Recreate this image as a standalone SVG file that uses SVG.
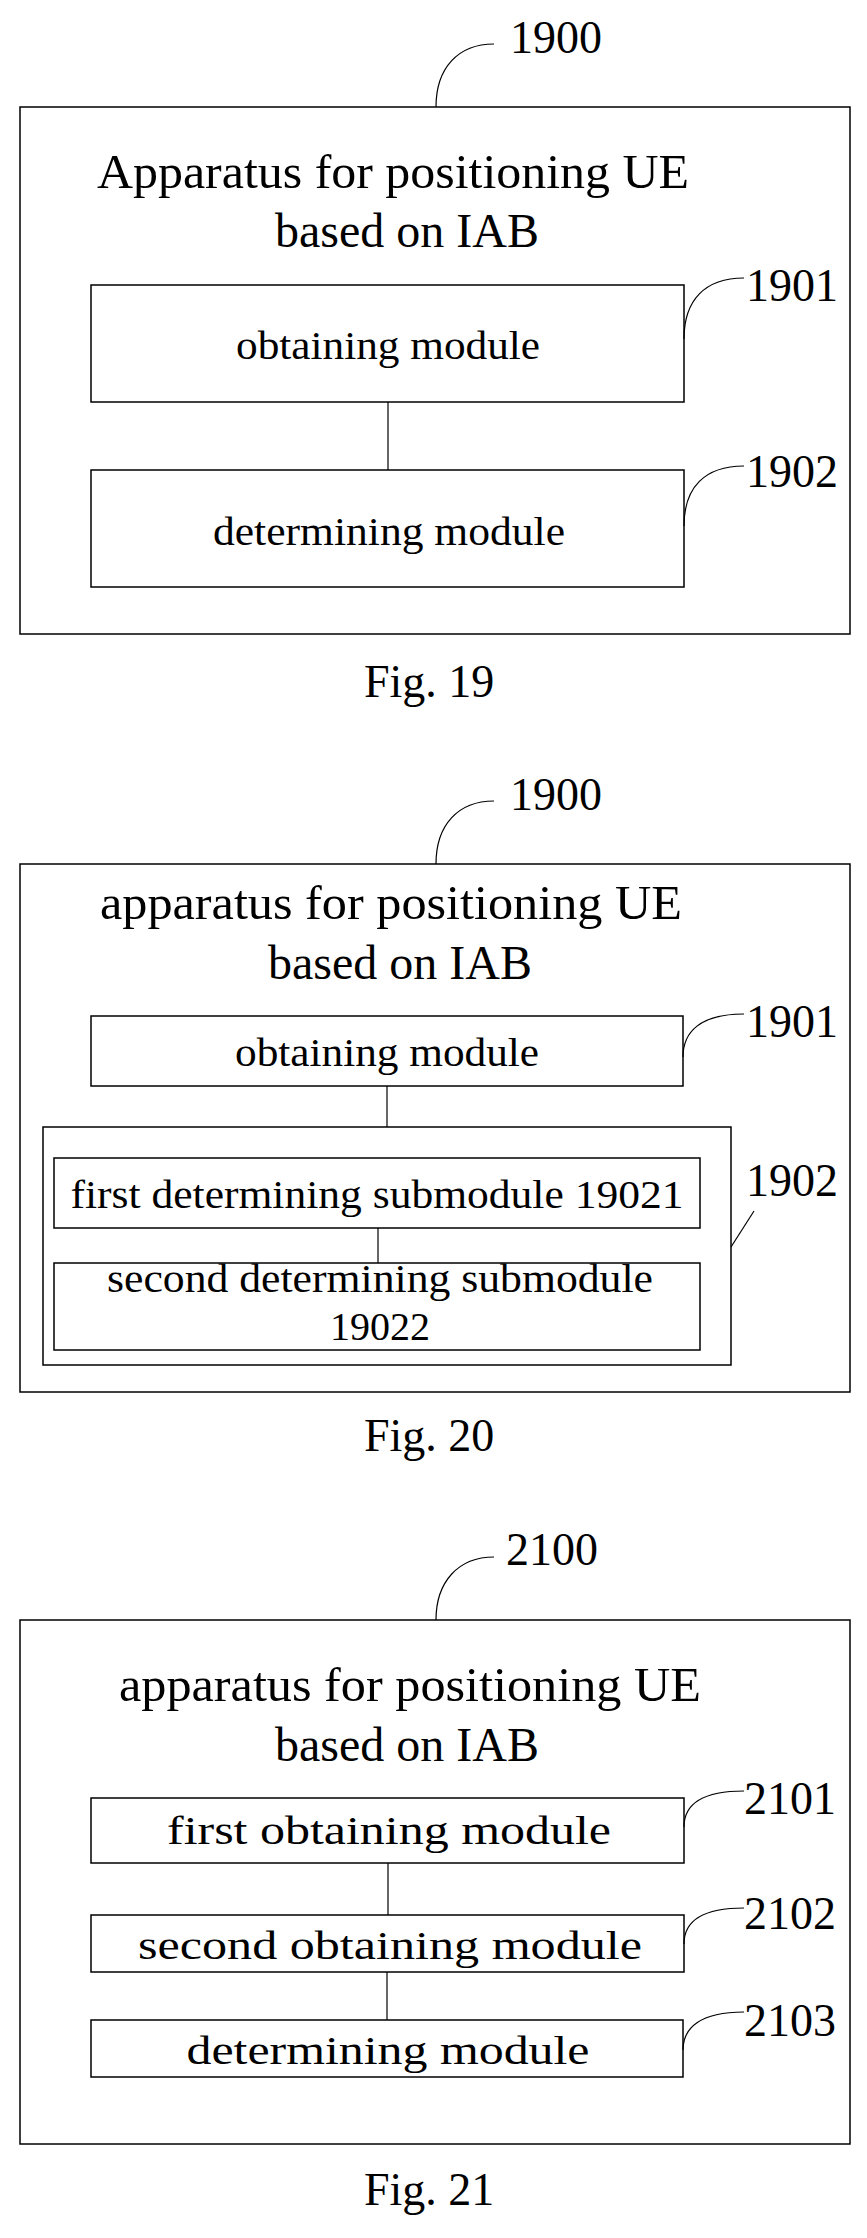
<svg xmlns="http://www.w3.org/2000/svg" width="867" height="2238" viewBox="0 0 867 2238">
<style>
rect{fill:#fff;stroke:#000;stroke-width:1.5}
path,line{fill:none;stroke:#000;stroke-width:1.2}
text{font-family:"Liberation Serif","Times New Roman",serif;fill:#000}
.t{font-size:48px;text-anchor:middle}
.m{font-size:40px;text-anchor:middle}
.n{font-size:46px}
</style>
<rect x="0" y="0" width="867" height="2238" style="fill:#fff;stroke:none"/>
<!-- Fig 19 -->
<g id="fig19">
<rect id="n1900a" x="20" y="107" width="830" height="527"/>
<text class="t" x="393" y="188" textLength="592" lengthAdjust="spacingAndGlyphs">Apparatus for positioning UE</text>
<text class="t" x="407" y="247">based on IAB</text>
<text class="n" x="510" y="53">1900</text>
<text class="n" x="364" y="697">Fig. 19</text>
</g>
<g id="n1901a"><rect x="91" y="285" width="593" height="117"/><text class="m" x="388" y="359" textLength="304" lengthAdjust="spacingAndGlyphs">obtaining module</text><text class="n" x="746" y="301">1901</text></g>
<g id="n1902a"><rect x="91" y="470" width="593" height="117"/><text class="m" x="389" y="545" textLength="352" lengthAdjust="spacingAndGlyphs">determining module</text><text class="n" x="746" y="487">1902</text></g>
<!-- Fig 20 -->
<g id="fig20">
<rect id="n1900b" x="20" y="864" width="830" height="528"/>
<text class="t" x="391" y="919" textLength="582" lengthAdjust="spacingAndGlyphs">apparatus for positioning UE</text>
<text class="t" x="400" y="979">based on IAB</text>
<text class="n" x="510" y="810">1900</text>
<text class="n" x="364" y="1451">Fig. 20</text>
</g>
<g id="n1901b"><rect x="91" y="1016" width="592" height="70"/><text class="m" x="387" y="1066" textLength="304" lengthAdjust="spacingAndGlyphs">obtaining module</text><text class="n" x="746" y="1037">1901</text></g>
<g id="n1902b"><rect x="43" y="1127" width="688" height="238"/><text class="n" x="746" y="1196">1902</text></g>
<g id="n19021"><rect x="54" y="1158" width="646" height="70"/><text class="m" x="377" y="1208" textLength="613" lengthAdjust="spacingAndGlyphs">first determining submodule 19021</text></g>
<g id="n19022"><rect x="54" y="1263" width="646" height="87"/><text class="m" x="380" y="1292" textLength="546" lengthAdjust="spacingAndGlyphs">second determining submodule</text><text class="m" x="380" y="1340">19022</text></g>
<!-- Fig 21 -->
<g id="fig21">
<rect id="n2100" x="20" y="1620" width="830" height="524"/>
<text class="t" x="410" y="1701" textLength="582" lengthAdjust="spacingAndGlyphs">apparatus for positioning UE</text>
<text class="t" x="407" y="1761">based on IAB</text>
<text class="n" x="506" y="1565">2100</text>
<text class="n" x="364" y="2205">Fig. 21</text>
</g>
<g id="n2101"><rect x="91" y="1798" width="593" height="65"/><text class="m" x="389" y="1844" textLength="444" lengthAdjust="spacingAndGlyphs">first obtaining module</text><text class="n" x="744" y="1814">2101</text></g>
<g id="n2102"><rect x="91" y="1915" width="593" height="57"/><text class="m" x="390" y="1959" textLength="504" lengthAdjust="spacingAndGlyphs">second obtaining module</text><text class="n" x="744" y="1929">2102</text></g>
<g id="n2103"><rect x="91" y="2020" width="592" height="57"/><text class="m" x="388" y="2064" textLength="403" lengthAdjust="spacingAndGlyphs">determining module</text><text class="n" x="744" y="2036">2103</text></g>
<g id="connectors">
<path d="M436,107 C436,68 458,44 494,44"/>
<path d="M684,339 C684,300 705,278 744,278"/>
<path d="M684,526 C684,487 705,466 744,466"/>
<line x1="388" y1="402" x2="388" y2="470"/>
<path d="M436,864 C436,825 458,801 494,801"/>
<path d="M683,1057 C683,1032 700,1014 744,1014"/>
<line x1="731" y1="1247" x2="754" y2="1211"/>
<line x1="387" y1="1086" x2="387" y2="1127"/>
<line x1="378" y1="1228" x2="378" y2="1263"/>
<path d="M436,1620 C436,1582 458,1557 494,1557"/>
<path d="M684,1827 C684,1805 700,1791 744,1791"/>
<path d="M684,1944 C684,1922 700,1908 744,1908"/>
<path d="M683,2050 C683,2028 700,2012 744,2012"/>
<line x1="388" y1="1863" x2="388" y2="1915"/>
<line x1="387" y1="1972" x2="387" y2="2020"/>
</g>
</svg>
